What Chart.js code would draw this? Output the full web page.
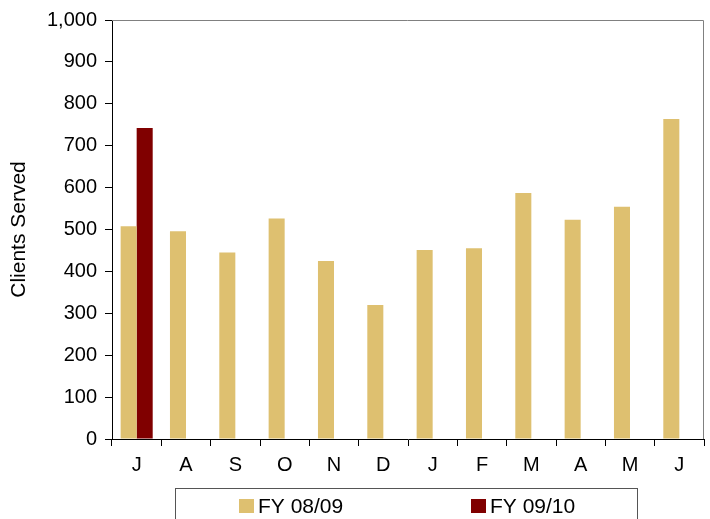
<!DOCTYPE html>
<html>
<head>
<meta charset="utf-8">
<script src="https://cdn.jsdelivr.net/npm/chart.js@4/dist/chart.umd.min.js"></script>
<style>
  html, body { margin: 0; padding: 0; background: #fff; }
  #wrap { width: 710px; height: 519px; }
</style>
</head>
<body>
<div id="wrap"><canvas id="chart" width="710" height="519"></canvas></div>
<script>
// Clients served per month, fiscal year starting in July
const months = ['J', 'A', 'S', 'O', 'N', 'D', 'J', 'F', 'M', 'A', 'M', 'J'];
const fy0809 = [508, 496, 445, 526, 425, 320, 451, 455, 587, 523, 554, 764];
const fy0910 = [742, null, null, null, null, null, null, null, null, null, null, null];
const seriesNames = ['FY 08/09', 'FY 09/10'];
const yTicks = [0, 100, 200, 300, 400, 500, 600, 700, 800, 900, 1000];

const TAN = '#DEC070';
const MAROON = '#800000';
const FONT = "'Liberation Sans', Arial, sans-serif";

// frame on top/right of the plot and the boxed legend under the axis
const framePlugin = {
    id: 'frameAndLegend',
    afterDraw(chart) {
        const ctx = chart.ctx;
        const a = chart.chartArea;
        ctx.save();
        ctx.strokeStyle = '#808080';
        ctx.lineWidth = 1;
        ctx.beginPath();
        ctx.moveTo(a.left, a.top + 0.5);
        ctx.lineTo(a.right - 0.5, a.top + 0.5);
        ctx.lineTo(a.right - 0.5, a.bottom);
        ctx.stroke();

        // legend box
        ctx.strokeStyle = '#555';
        ctx.strokeRect(175.5, 488.5, 462, 40);

        const items = [
            { x: 239, label: seriesNames[0], color: TAN },
            { x: 471, label: seriesNames[1], color: MAROON }
        ];
        ctx.font = '21px ' + FONT;
        ctx.textBaseline = 'middle';
        items.forEach(it => {
            ctx.fillStyle = it.color;
            ctx.fillRect(it.x, 499, 15, 14);
            ctx.fillStyle = '#000';
            ctx.fillText(it.label, it.x + 19, 507);
        });
        ctx.restore();
    }
};

new Chart(document.getElementById('chart'), {
    type: 'bar',
    data: {
        labels: months,
        datasets: [{
            label: seriesNames[0],
            data: fy0809,
            backgroundColor: TAN,
            borderWidth: 0
        }, {
            label: seriesNames[1],
            data: fy0910,
            backgroundColor: MAROON,
            borderWidth: 0
        }]
    },
    options: {
        responsive: false,
        animation: false,
        devicePixelRatio: 1,
        layout: {
            padding: { left: 0, top: 20, right: 6, bottom: 0 }
        },
        datasets: {
            bar: {
                categoryPercentage: 0.65,
                barPercentage: 1
            }
        },
        plugins: {
            legend: { display: false },
            tooltip: { enabled: false }
        },
        scales: {
            x: {
                grid: {
                    display: true,
                    drawOnChartArea: false,
                    drawTicks: true,
                    tickLength: 7,
                    color: '#000',
                    offset: true
                },
                border: { color: '#000', width: 1 },
                ticks: {
                    color: '#000',
                    padding: 7,
                    maxRotation: 0,
                    font: { family: FONT, size: 20 }
                },
                afterFit: s => { s.height = 80; }
            },
            y: {
                min: 0,
                max: 1000,
                afterBuildTicks: s => { s.ticks = yTicks.map(v => ({ value: v })); },
                grid: {
                    display: true,
                    drawOnChartArea: false,
                    drawTicks: true,
                    tickLength: 7,
                    color: '#000'
                },
                border: { color: '#000', width: 1 },
                ticks: {
                    color: '#000',
                    padding: 8,
                    font: { family: FONT, size: 20 },
                    callback: v => v.toLocaleString('en-US')
                },
                title: {
                    display: true,
                    text: 'Clients Served',
                    color: '#000',
                    padding: { top: 7, bottom: 0 },
                    font: { family: FONT, size: 21 }
                },
                afterFit: s => { s.width = 112; }
            }
        }
    },
    plugins: [framePlugin]
});
</script>
</body>
</html>
